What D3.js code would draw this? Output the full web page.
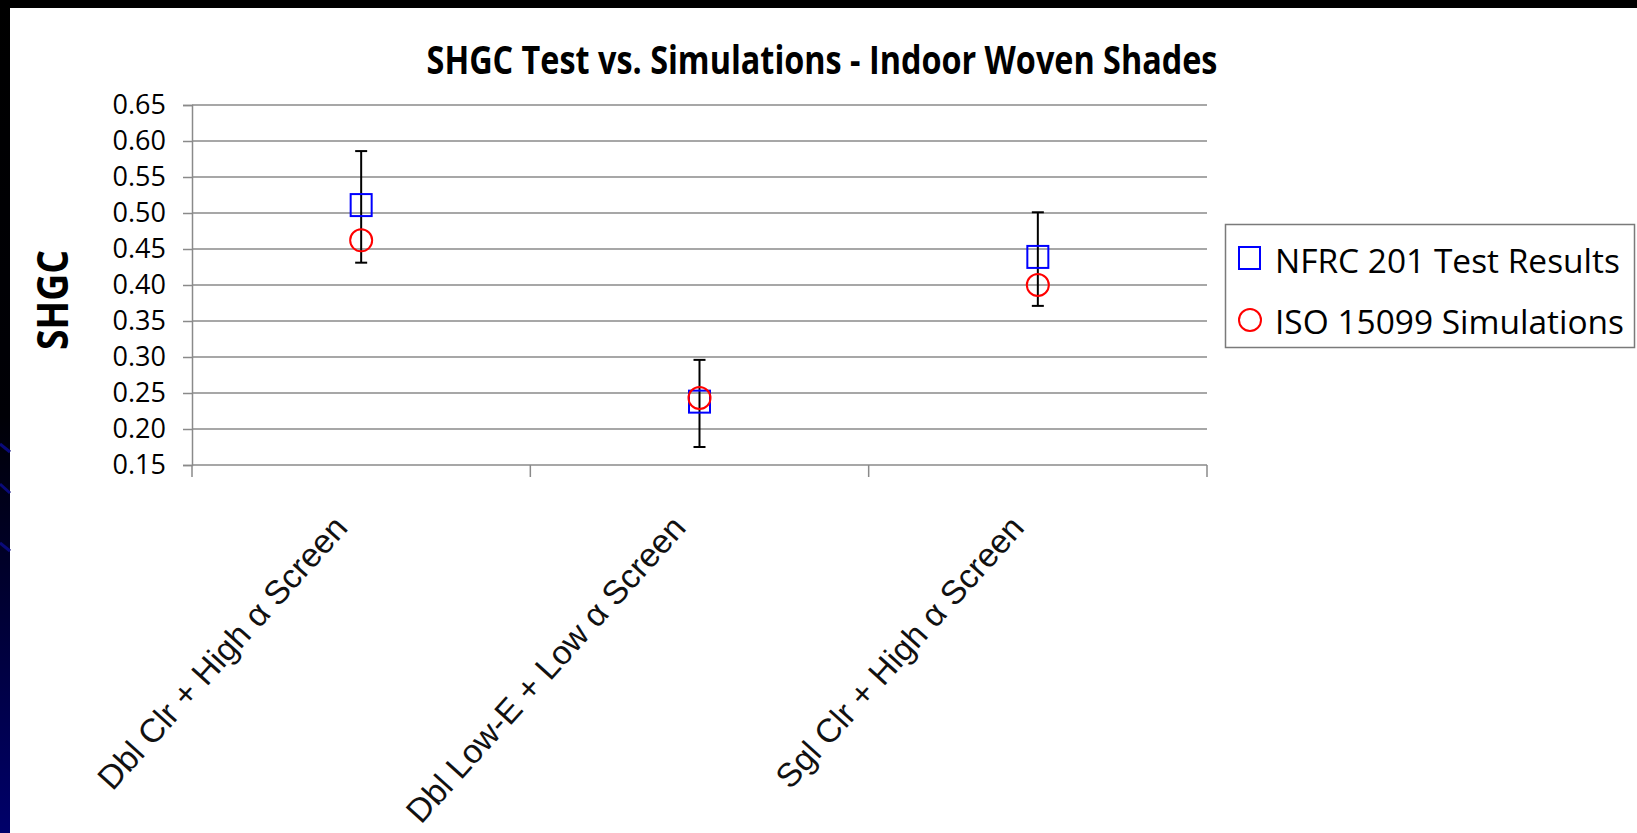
<!DOCTYPE html>
<html>
<head>
<meta charset="utf-8">
<script src="https://cdn.jsdelivr.net/npm/d3@7"></script>
<style>
  html, body { margin: 0; padding: 0; background: #fff; }
  svg { display: block; }
</style>
</head>
<body>
<svg></svg>
<script>
var width = 1637,
    height = 833;

// data
var categories = ["Dbl Clr + High \u03b1 Screen", "Dbl Low-E + Low \u03b1 Screen", "Sgl Clr + High \u03b1 Screen"];
var nfrcValues = [0.511, 0.238, 0.439];
var isoValues = [0.462, 0.243, 0.400];
var errPlus = [0.075, 0.058, 0.062];
var errMinus = [0.080, 0.063, 0.068];
var yTicks = [0.15, 0.20, 0.25, 0.30, 0.35, 0.40, 0.45, 0.50, 0.55, 0.60, 0.65];
var seriesNames = ["NFRC 201 Test Results", "ISO 15099 Simulations"];

var plot = { left: 192, right: 1207, top: 105, bottom: 465 };

var svg = d3.select("svg")
    .attr("width", width)
    .attr("height", height);

// slide frame: black top bar and dark left strip
var defs = svg.append("defs");
var grad = defs.append("linearGradient")
    .attr("id", "strip")
    .attr("x1", 0).attr("y1", 0).attr("x2", 0).attr("y2", 1);
grad.append("stop").attr("offset", "0%").attr("stop-color", "#000");
grad.append("stop").attr("offset", "50%").attr("stop-color", "#000006");
grad.append("stop").attr("offset", "100%").attr("stop-color", "#00006a");

svg.append("rect").attr("width", width).attr("height", height).attr("fill", "#fff");
svg.append("rect").attr("width", width).attr("height", 8).attr("fill", "#000");
svg.append("rect").attr("width", 10).attr("height", height).attr("fill", "url(#strip)");
[[444, 452], [484, 493], [543, 551]].forEach(s => {
    svg.append("line")
        .attr("x1", 0).attr("y1", s[0]).attr("x2", 10).attr("y2", s[1])
        .attr("stroke", "#0a0a7a").attr("stroke-width", 3);
});

var x = d3.scaleBand()
    .domain(categories)
    .range([plot.left, plot.right]);

var y = d3.scaleLinear()
    .domain([0.15, 0.65])
    .range([plot.bottom, plot.top]);

function fitText(sel, w) {
    var fs = parseFloat(sel.attr("font-size"));
    sel.attr("font-size", fs * w / sel.node().getComputedTextLength());
}

// gridlines
svg.append("g")
    .selectAll("line")
    .data(yTicks)
    .join("line")
    .attr("x1", plot.left)
    .attr("x2", plot.right)
    .attr("y1", d => y(d))
    .attr("y2", d => y(d))
    .attr("stroke", "#8a8a8a")
    .attr("stroke-width", 1.5);

// y axis
var yAxis = svg.append("g")
    .attr("transform", "translate(" + plot.left + ",0)")
    .call(d3.axisLeft(y).tickValues(yTicks).tickFormat(d3.format(".2f")).tickSize(9).tickPadding(17));
yAxis.select(".domain").attr("stroke", "#8a8a8a").attr("stroke-width", 1.5);
yAxis.selectAll(".tick line").attr("stroke", "#8a8a8a").attr("stroke-width", 1.5);
yAxis.selectAll("text")
    .attr("font-family", "'Open Sans', sans-serif")
    .attr("font-size", 27)
    .attr("fill", "#000");

// x axis: ticks on category boundaries
var bounds = categories.map(c => x(c)).concat([plot.right]);
svg.append("g")
    .selectAll("line")
    .data(bounds)
    .join("line")
    .attr("x1", d => d).attr("x2", d => d)
    .attr("y1", plot.bottom).attr("y2", plot.bottom + 12)
    .attr("stroke", "#8a8a8a")
    .attr("stroke-width", 1.5);

svg.append("g")
    .selectAll("text")
    .data(categories)
    .join("text")
    .attr("transform", d => "translate(" + (x(d) + x.bandwidth() / 2 - 12) + "," + (plot.bottom + 64) + ") rotate(-48)")
    .attr("text-anchor", "end")
    .attr("font-family", "'Liberation Sans', Arial, sans-serif")
    .attr("font-size", 33.5)
    .attr("fill", "#111")
    .text(d => d);

var cx = d => x(d) + x.bandwidth() / 2;

// error bars
var eb = svg.append("g").attr("stroke", "#000").attr("stroke-width", 2);
categories.forEach((c, i) => {
    var top = y(nfrcValues[i] + errPlus[i]),
        bot = y(nfrcValues[i] - errMinus[i]);
    eb.append("line").attr("x1", cx(c)).attr("x2", cx(c)).attr("y1", top).attr("y2", bot);
    eb.append("line").attr("x1", cx(c) - 6).attr("x2", cx(c) + 6).attr("y1", top).attr("y2", top);
    eb.append("line").attr("x1", cx(c) - 6).attr("x2", cx(c) + 6).attr("y1", bot).attr("y2", bot);
});

// markers
svg.append("g")
    .selectAll("rect")
    .data(nfrcValues)
    .join("rect")
    .attr("x", (d, i) => cx(categories[i]) - 10.5)
    .attr("y", d => y(d) - 11)
    .attr("width", 21)
    .attr("height", 22)
    .attr("fill", "none")
    .attr("stroke", "#0000ff")
    .attr("stroke-width", 2);

svg.append("g")
    .selectAll("circle")
    .data(isoValues)
    .join("circle")
    .attr("cx", (d, i) => cx(categories[i]))
    .attr("cy", d => y(d))
    .attr("r", 11)
    .attr("fill", "none")
    .attr("stroke", "#ff0000")
    .attr("stroke-width", 2);

// title (Calibri-like: narrower, taller glyphs)
var title = svg.append("text")
    .attr("transform", "translate(822,74) scale(1,1.2)")
    .attr("text-anchor", "middle")
    .attr("font-family", "'Open Sans', sans-serif")
    .attr("font-weight", "bold")
    .attr("font-size", 34)
    .text("SHGC Test vs. Simulations - Indoor Woven Shades");
fitText(title, 791);

// y axis title
var yTitle = svg.append("text")
    .attr("transform", "translate(68,300) rotate(-90) scale(1,1.15)")
    .attr("text-anchor", "middle")
    .attr("font-family", "'Open Sans', sans-serif")
    .attr("font-weight", "bold")
    .attr("font-size", 40)
    .text("SHGC");
fitText(yTitle, 100);

// legend
var legend = svg.append("g");
legend.append("rect")
    .attr("x", 1225.5).attr("y", 224.5)
    .attr("width", 409).attr("height", 123)
    .attr("fill", "#fff")
    .attr("stroke", "#7a7a7a")
    .attr("stroke-width", 1.5);
legend.append("rect")
    .attr("x", 1239).attr("y", 247)
    .attr("width", 21).attr("height", 22)
    .attr("fill", "none").attr("stroke", "#0000ff").attr("stroke-width", 2);
legend.append("circle")
    .attr("cx", 1250).attr("cy", 320).attr("r", 11)
    .attr("fill", "none").attr("stroke", "#ff0000").attr("stroke-width", 2);
var legendText = legend.selectAll("text.lg")
    .data(seriesNames)
    .join("text")
    .attr("class", "lg")
    .attr("x", 1275)
    .attr("y", (d, i) => 273 + i * 61)
    .attr("font-family", "'Open Sans', sans-serif")
    .attr("font-size", 34)
    .text(d => d);
fitText(d3.select(legendText.nodes()[0]), 345);
legendText.attr("font-size", d3.select(legendText.nodes()[0]).attr("font-size"));
</script>
</body>
</html>
